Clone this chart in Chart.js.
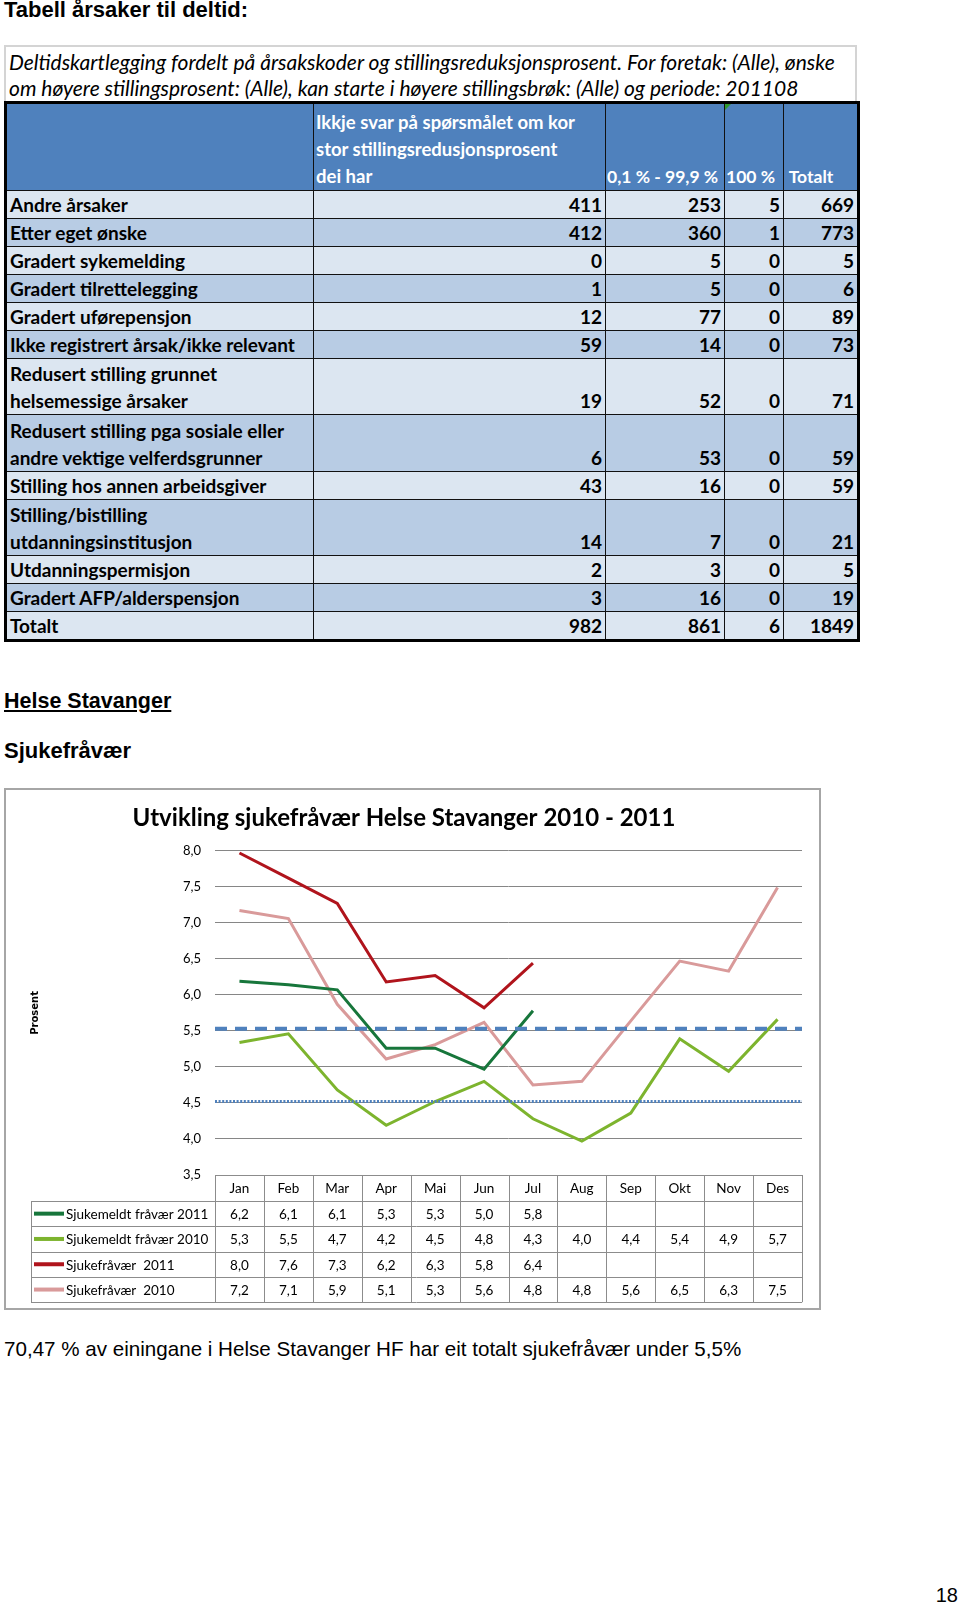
<!DOCTYPE html>
<html>
<head>
<meta charset="utf-8">
<script src="https://cdn.jsdelivr.net/npm/chart.js@4.4.0/dist/chart.umd.min.js"></script>
<style>
  body { margin: 0; background: #fff; }
  #side { position: relative; width: 960px; height: 1607px; overflow: hidden; font-family: "Liberation Sans", Arial, sans-serif; }
  .txt { position: absolute; left: 4px; font-size: 22px; line-height: 24px; color: #000; white-space: nowrap; }
  .b { font-weight: bold; }
  #cap { position: absolute; left: 4px; top: 45px; width: 853px; height: 58px; box-sizing: border-box;
         border: 2px solid #d4d4d4; border-bottom: none; font-family: Lato, sans-serif; font-style: italic;
         font-size: 21px; line-height: 26px; padding: 2px 0 0 3px; white-space: nowrap; overflow: hidden; }
  #tabell { position: absolute; left: 4px; top: 101px; width: 853px; border-collapse: collapse; table-layout: fixed;
            border: 3px solid #000; font-family: Lato, sans-serif; font-weight: bold; font-size: 19px; color: #000; }
  #tabell td, #tabell th { border: 1.5px solid #111; padding: 0 3px; vertical-align: bottom; line-height: 27px;
            white-space: pre-line; text-align: right; font-weight: bold; }
  #tabell th { background: #4f81bd; color: #fff; text-align: left; position: relative; padding: 0 2px; font-size: 18.5px; }
  #tabell th.kort { white-space: nowrap; overflow: visible; font-size: 17.5px; padding: 0 1px; }
  #tabell td.n { text-align: left; }
  .lys td { background: #dce6f1; }
  .mork td { background: #b8cce4; }
  .hjorne { position: absolute; left: 0; top: 0; width: 0; height: 0; border-top: 6px solid #2e9a2e; border-right: 6px solid transparent; }
  #wrap { position: absolute; left: 4px; top: 788px; width: 817px; height: 522px; box-sizing: border-box; border: 2px solid #a6a6a6; }
</style>
</head>
<body>
<div id="side">
  <div class="txt b" style="top:-2px;">Tabell årsaker til deltid:</div>

  <div id="cap">Deltidskartlegging fordelt på årsakskoder og stillingsreduksjonsprosent. For foretak: (Alle), ønske<br>om høyere stillingsprosent: (Alle), kan starte i høyere stillingsbrøk: (Alle) og periode: 201108</div>
  <table id="tabell">
    <colgroup><col style="width:308px"><col style="width:292px"><col style="width:119px"><col style="width:59px"><col style="width:75px"></colgroup>
    <thead>
      <tr style="height:88px">
        <th></th>
        <th>Ikkje svar på spørsmålet om kor
stor stillingsredusjonsprosent
dei har</th>
        <th class="kort">0,1 % - 99,9 %</th>
        <th class="kort"><span class="hjorne"></span>100 %</th>
        <th class="kort">&nbsp;Totalt</th>
      </tr>
    </thead>
    <tbody id="rader"></tbody>
  </table>

  <div class="txt b" style="top:689px; font-size:21.5px; text-decoration: underline;">Helse Stavanger</div>
  <div class="txt b" style="top:739px;">Sjukefråvær</div>

  <div id="wrap"><canvas id="chart"></canvas></div>

  <div class="txt" style="top:1337px; font-size:20.6px;">70,47 % av einingane i Helse Stavanger HF har eit totalt sjukefråvær under 5,5%</div>
  <div class="txt" style="top:1583px; left:auto; right:2px; font-size:20px;">18</div>
</div>

<script>
// Tabell: årsaker til deltid
const aarsaker = ['Andre årsaker', 'Etter eget ønske', 'Gradert sykemelding', 'Gradert tilrettelegging',
  'Gradert uførepensjon', 'Ikke registrert årsak/ikke relevant', 'Redusert stilling grunnet\nhelsemessige årsaker',
  'Redusert stilling pga sosiale eller\nandre vektige velferdsgrunner', 'Stilling hos annen arbeidsgiver',
  'Stilling/bistilling\nutdanningsinstitusjon', 'Utdanningspermisjon', 'Gradert AFP/alderspensjon', 'Totalt'];
const ikkjeSvar = [411, 412, 0, 1, 12, 59, 19, 6, 43, 14, 2, 3, 982];
const delvis = [253, 360, 5, 5, 77, 14, 52, 53, 16, 7, 3, 16, 861];
const heil = [5, 1, 0, 0, 0, 0, 0, 0, 0, 0, 0, 0, 6];
const totalt = [669, 773, 5, 6, 89, 73, 71, 59, 59, 21, 5, 19, 1849];

// Graf: sjukefråvær per månad
const maaneder = ['Jan', 'Feb', 'Mar', 'Apr', 'Mai', 'Jun', 'Jul', 'Aug', 'Sep', 'Okt', 'Nov', 'Des'];
const sjukemeldt2011 = [6.19, 6.14, 6.07, 5.26, 5.26, 4.97, 5.78, null, null, null, null, null];
const sjukemeldt2010 = [5.34, 5.46, 4.68, 4.19, 4.52, 4.80, 4.28, 3.97, 4.36, 5.39, 4.94, 5.66];
const sjukefravaer2011 = [7.97, 7.62, 7.27, 6.18, 6.27, 5.82, 6.44, null, null, null, null, null];
const sjukefravaer2010 = [7.17, 7.06, 5.87, 5.11, 5.31, 5.62, 4.75, 4.80, 5.64, 6.47, 6.33, 7.49];
const maalTotalt = 5.53;    // stipla linje
const maalSjukemeldt = 4.52; // prikka linje

// bygg tabellen
const tbody = document.getElementById('rader');
aarsaker.forEach((namn, i) => {
  const tr = document.createElement('tr');
  tr.className = i % 2 === 0 ? 'lys' : 'mork';
  tr.style.height = namn.includes('\n') ? '56.3px' : '27.7px';
  const celler = [namn, ikkjeSvar[i], delvis[i], heil[i], totalt[i]];
  celler.forEach((c, j) => {
    const td = document.createElement('td');
    if (j === 0) td.className = 'n';
    td.textContent = c;
    tr.appendChild(td);
  });
  tbody.appendChild(tr);
});

const fmt = v => v.toFixed(1).replace('.', ',');
const tekstFont = 'Lato, sans-serif';

const serier = [
  { namn: 'Sjukemeldt fråvær 2011', data: sjukemeldt2011, farge: '#17763b' },
  { namn: 'Sjukemeldt fråvær 2010', data: sjukemeldt2010, farge: '#7db42e' },
  { namn: 'Sjukefråvær  2011', data: sjukefravaer2011, farge: '#b0141c' },
  { namn: 'Sjukefråvær  2010', data: sjukefravaer2010, farge: '#d99a9a' }
];

// blå mållinjer over heile plotteområdet
const maalLinjer = {
  id: 'maalLinjer',
  afterDatasetsDraw(chart) {
    const { ctx, chartArea: a, scales: { y } } = chart;
    ctx.save();
    ctx.strokeStyle = '#4f81bd';
    ctx.lineWidth = 4;
    ctx.setLineDash([12, 8]);
    let py = y.getPixelForValue(maalTotalt);
    ctx.beginPath(); ctx.moveTo(a.left, py); ctx.lineTo(a.right, py); ctx.stroke();
    ctx.lineWidth = 3;
    ctx.setLineDash([2, 1.6]);
    py = y.getPixelForValue(maalSjukemeldt);
    ctx.beginPath(); ctx.moveTo(a.left, py); ctx.lineTo(a.right, py); ctx.stroke();
    ctx.restore();
  }
};

// datatabell under grafen, kolonnene følgjer x-aksen
const dataTabell = {
  id: 'dataTabell',
  afterDraw(chart) {
    const { ctx, chartArea: a, scales: { x } } = chart;
    const kolB = (a.right - a.left) / maaneder.length;
    const topp = a.bottom;
    const hovudH = 26, radH = 25.3;
    const venstre = 25;
    const botn = topp + hovudH + radH * serier.length;
    ctx.save();
    ctx.strokeStyle = '#8c8c8c';
    ctx.lineWidth = 1;
    ctx.beginPath();
    ctx.moveTo(a.left, topp + 0.5); ctx.lineTo(a.right, topp + 0.5);
    for (let r = 0; r <= serier.length; r++) {
      const yy = Math.round(topp + hovudH + radH * r) + 0.5;
      ctx.moveTo(venstre, yy); ctx.lineTo(a.right, yy);
    }
    for (let i = 0; i <= maaneder.length; i++) {
      const xx = Math.round(a.left + kolB * i) + 0.5;
      ctx.moveTo(xx, topp); ctx.lineTo(xx, botn);
    }
    ctx.moveTo(venstre + 0.5, topp + hovudH); ctx.lineTo(venstre + 0.5, botn);
    ctx.stroke();

    ctx.fillStyle = '#000';
    ctx.font = '13.5px ' + tekstFont;
    ctx.textAlign = 'center';
    ctx.textBaseline = 'middle';
    maaneder.forEach((m, i) => ctx.fillText(m, x.getPixelForValue(i), topp + hovudH / 2 + 1));

    serier.forEach((s, r) => {
      const cy = topp + hovudH + radH * r + radH / 2 + 1;
      ctx.strokeStyle = s.farge;
      ctx.lineWidth = 4;
      ctx.beginPath(); ctx.moveTo(venstre + 3, cy - 1); ctx.lineTo(venstre + 33, cy - 1); ctx.stroke();
      ctx.textAlign = 'left';
      ctx.fillText(s.namn, venstre + 35, cy);
      ctx.textAlign = 'center';
      s.data.forEach((v, i) => {
        if (v !== null) ctx.fillText(fmt(v), x.getPixelForValue(i), cy);
      });
    });
    ctx.restore();
  }
};

new Chart(document.getElementById('chart'), {
  type: 'line',
  data: {
    labels: maaneder,
    datasets: serier.map(s => ({
      label: s.namn,
      data: s.data,
      borderColor: s.farge,
      backgroundColor: s.farge,
      borderWidth: 3,
      pointRadius: 0,
      tension: 0,
      spanGaps: false
    }))
  },
  options: {
    responsive: true,
    maintainAspectRatio: false,
    animation: false,
    layout: { padding: { left: 0, right: 17, top: 0, bottom: 133 } },
    plugins: {
      legend: { display: false },
      tooltip: { enabled: false },
      title: {
        display: true,
        text: 'Utvikling sjukefråvær Helse Stavanger 2010 - 2011',
        color: '#000',
        font: { family: tekstFont, size: 24, weight: 'bold' },
        padding: { top: 14, bottom: 18 }
      }
    },
    scales: {
      x: { display: false, offset: true },
      y: {
        min: 3.5,
        max: 8,
        afterFit: s => { s.width = 209; },
        border: { display: false },
        grid: { color: '#868686', drawTicks: false },
        ticks: { stepSize: 0.5, padding: 14, color: '#000', font: { family: tekstFont, size: 13 }, callback: v => fmt(v) },
        title: { display: true, text: 'Prosent', color: '#000', font: { family: 'DejaVu Sans', size: 10, weight: 'bold' }, padding: { top: 23, bottom: 0 } }
      }
    }
  },
  plugins: [maalLinjer, dataTabell]
});
</script>
</body>
</html>
